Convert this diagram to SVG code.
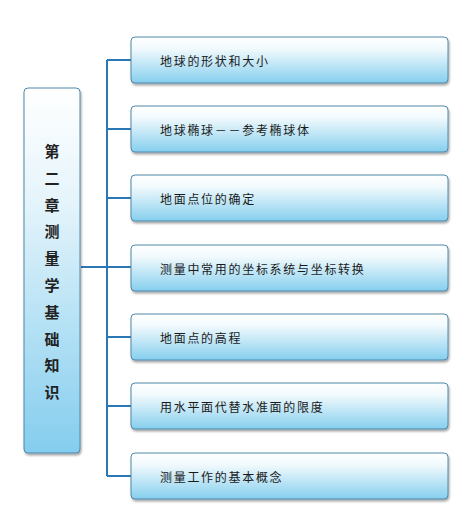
<svg xmlns="http://www.w3.org/2000/svg" width="475" height="532" viewBox="0 0 475 532">
  <defs>
    <linearGradient id="boxFill" x1="0" y1="0" x2="0" y2="1">
      <stop offset="0" stop-color="#ffffff"/>
      <stop offset="0.25" stop-color="#f2fafd"/>
      <stop offset="1" stop-color="#86cfee"/>
    </linearGradient>
    <linearGradient id="rootFill" x1="0" y1="0" x2="0" y2="1">
      <stop offset="0" stop-color="#ffffff"/>
      <stop offset="0.3" stop-color="#e6f5fb"/>
      <stop offset="1" stop-color="#84cdee"/>
    </linearGradient>
    <filter id="shadow" x="-10%" y="-10%" width="120%" height="130%">
      <feDropShadow dx="1" dy="2" stdDeviation="1" flood-color="#000" flood-opacity="0.35"/>
    </filter>
  </defs>
  <style>
    .box { fill: url(#boxFill); stroke: #4f88aa; stroke-width: 1; filter: url(#shadow); }
    .root { fill: url(#rootFill); stroke: #4f88aa; stroke-width: 1; filter: url(#shadow); }
    .label { font-family: "Noto Sans CJK SC", "Noto Sans", sans-serif; font-size: 12px; fill: #1a1a1a; letter-spacing: 1.7px; }
    .rootText { font-family: "Noto Sans CJK SC", sans-serif; font-size: 15px; font-weight: bold; fill: #222; text-anchor: middle; }
    .conn { stroke: #2a78b4; stroke-width: 2; fill: none; }
  </style>
  <rect width="475" height="532" fill="#ffffff"/>

  <g id="connectors">
    <line class="conn" x1="81" y1="267" x2="107" y2="267"/>
    <line class="conn" x1="107" y1="60" x2="107" y2="476"/>
    <line class="conn" x1="107" y1="60" x2="131" y2="60"/>
    <line class="conn" x1="107" y1="129" x2="131" y2="129"/>
    <line class="conn" x1="107" y1="198" x2="131" y2="198"/>
    <line class="conn" x1="107" y1="267" x2="131" y2="267"/>
    <line class="conn" x1="107" y1="337" x2="131" y2="337"/>
    <line class="conn" x1="107" y1="406" x2="131" y2="406"/>
    <line class="conn" x1="107" y1="476" x2="131" y2="476"/>
  </g>

  <g id="root">
    <rect class="root" x="24" y="88" width="56" height="365" rx="4"/>
    <text class="rootText" x="52" y="157">第</text>
    <text class="rootText" x="52" y="184">二</text>
    <text class="rootText" x="52" y="211">章</text>
    <text class="rootText" x="52" y="237">测</text>
    <text class="rootText" x="52" y="264">量</text>
    <text class="rootText" x="52" y="291">学</text>
    <text class="rootText" x="52" y="318">基</text>
    <text class="rootText" x="52" y="345">础</text>
    <text class="rootText" x="52" y="371">知</text>
    <text class="rootText" x="52" y="398">识</text>
  </g>

  <g id="n1">
    <rect class="box" x="131" y="37" width="317" height="46" rx="4"/>
    <text class="label" x="160" y="66">地球的形状和大小</text>
  </g>
  <g id="n2">
    <rect class="box" x="131" y="106" width="317" height="46" rx="4"/>
    <text class="label" x="160" y="135">地球椭球－－参考椭球体</text>
  </g>
  <g id="n3">
    <rect class="box" x="131" y="175" width="317" height="46" rx="4"/>
    <text class="label" x="160" y="204">地面点位的确定</text>
  </g>
  <g id="n4">
    <rect class="box" x="131" y="245" width="317" height="46" rx="4"/>
    <text class="label" x="160" y="274">测量中常用的坐标系统与坐标转换</text>
  </g>
  <g id="n5">
    <rect class="box" x="131" y="314" width="317" height="46" rx="4"/>
    <text class="label" x="160" y="343">地面点的高程</text>
  </g>
  <g id="n6">
    <rect class="box" x="131" y="383" width="317" height="46" rx="4"/>
    <text class="label" x="160" y="412">用水平面代替水准面的限度</text>
  </g>
  <g id="n7">
    <rect class="box" x="131" y="453" width="317" height="46" rx="4"/>
    <text class="label" x="160" y="482">测量工作的基本概念</text>
  </g>
</svg>
